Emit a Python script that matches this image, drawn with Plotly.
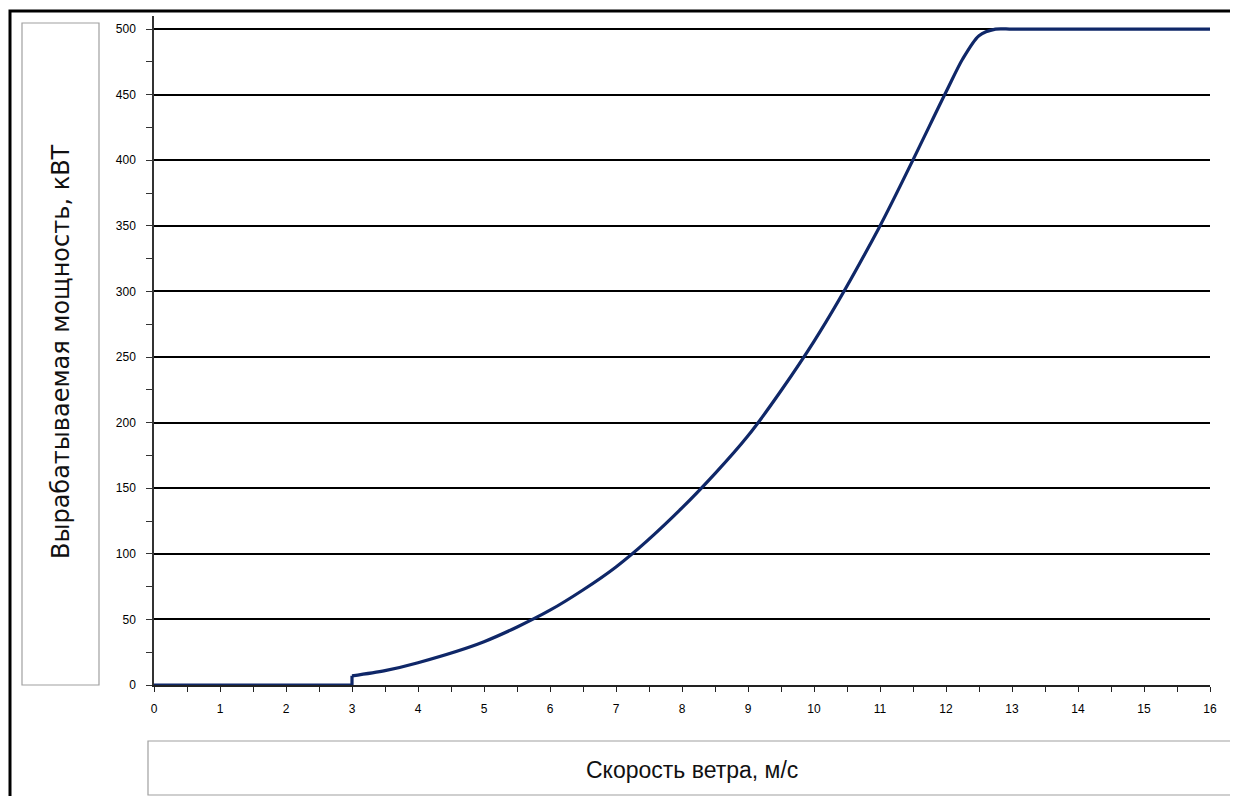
import plotly.graph_objects as go

# Data
wind_speed = [0, 1, 2, 3, 3, 3.5, 4, 5, 6, 7, 8, 9, 10, 11, 12, 12.25, 12.5, 12.75, 13, 14, 15, 16]
power_kw = [0, 0, 0, 0, 7, 11, 17, 33, 57, 90, 135, 190, 262, 350, 452, 477, 495, 500, 500, 500, 500, 500]

x_title = "Скорость ветра, м/с"
y_title = "Вырабатываемая мощность, кВТ"

OFF = 8  # page body margin
W, H = 1238 - OFF, 804 - 2 * OFF
L, R, T, B = 154 - OFF, 28, 16 - OFF, 804 - 685 - OFF
PW, PH = W - L - R, H - T - B


def px(xp):
    return (xp - OFF - L) / PW


def py(yp):
    return (H - B - (yp - OFF)) / PH


line_style = dict(color="#0f2768", width=3.2)

fig = go.Figure()
# flat cut-in part (up to the jump at 3 m/s)
fig.add_trace(go.Scatter(
    x=wind_speed[:5], y=power_kw[:5], mode="lines",
    line=dict(**line_style, shape="linear"),
    showlegend=False, hoverinfo="x+y",
))
# power curve
fig.add_trace(go.Scatter(
    x=wind_speed[4:], y=power_kw[4:], mode="lines",
    line=dict(**line_style, shape="spline", smoothing=0.8),
    showlegend=False, hoverinfo="x+y",
))

tick_font = dict(family="Liberation Sans", size=12, color="#000000")

fig.update_layout(
    width=W, height=H,
    margin=dict(l=L, r=R, t=T, b=B, pad=0),
    paper_bgcolor="white", plot_bgcolor="white",
    showlegend=False,
    xaxis=dict(
        range=[0, 16], tickmode="linear", tick0=0, dtick=1,
        showgrid=False, zeroline=False,
        showline=True, linecolor="#222222", linewidth=1.5,
        ticks="outside", ticklen=5, tickwidth=1.2, tickcolor="#222222",
        minor=dict(dtick=0.5, ticks="outside", ticklen=5, tickwidth=1.2, tickcolor="#222222"),
        tickfont=tick_font, ticklabelstandoff=7,
        fixedrange=True,
    ),
    xaxis2=dict(
        range=[0, 16], overlaying="x", anchor="y", side="bottom",
        tickmode="linear", tick0=0, dtick=0.5,
        showgrid=False, zeroline=False, showline=False,
        ticks="inside", ticklen=5, tickwidth=1.2, tickcolor="#222222",
        showticklabels=False, fixedrange=True,
    ),
    yaxis=dict(
        range=[0, 510], tickmode="array", tickvals=list(range(0, 501, 50)),
        showgrid=True, gridcolor="#000000", gridwidth=1.5,
        zeroline=False,
        showline=True, linecolor="#333333", linewidth=1.5,
        ticks="outside", ticklen=6, tickwidth=1.2, tickcolor="#333333",
        minor=dict(tickvals=list(range(25, 500, 50)), ticks="outside", ticklen=6,
                   tickwidth=1.2, tickcolor="#333333", showgrid=False),
        tickfont=tick_font, ticklabelstandoff=8,
        fixedrange=True,
    ),
)

# Outer frame
fig.add_shape(type="rect", xref="paper", yref="paper",
              x0=px(10), x1=px(1260), y0=py(830), y1=py(11),
              line=dict(color="black", width=3), fillcolor="rgba(0,0,0,0)", layer="above")
# Y title box
fig.add_shape(type="rect", xref="paper", yref="paper",
              x0=px(22), x1=px(99), y0=py(685), y1=py(23),
              line=dict(color="#a0a0a0", width=1.2), fillcolor="rgba(0,0,0,0)")
# X title box
fig.add_shape(type="rect", xref="paper", yref="paper",
              x0=px(148), x1=px(1235), y0=py(795), y1=py(741),
              line=dict(color="#a0a0a0", width=1.2), fillcolor="rgba(0,0,0,0)")

fig.add_annotation(text=y_title, xref="paper", yref="paper",
                   x=px(61), y=py(352), textangle=-90, showarrow=False,
                   xanchor="center", yanchor="middle",
                   font=dict(family="DejaVu Sans", size=24, color="#111111"))
fig.add_annotation(text=x_title, xref="paper", yref="paper",
                   x=px(692), y=py(770), showarrow=False,
                   xanchor="center", yanchor="middle",
                   font=dict(family="Liberation Sans", size=23, color="#111111"))

fig.write_html("out.html")
